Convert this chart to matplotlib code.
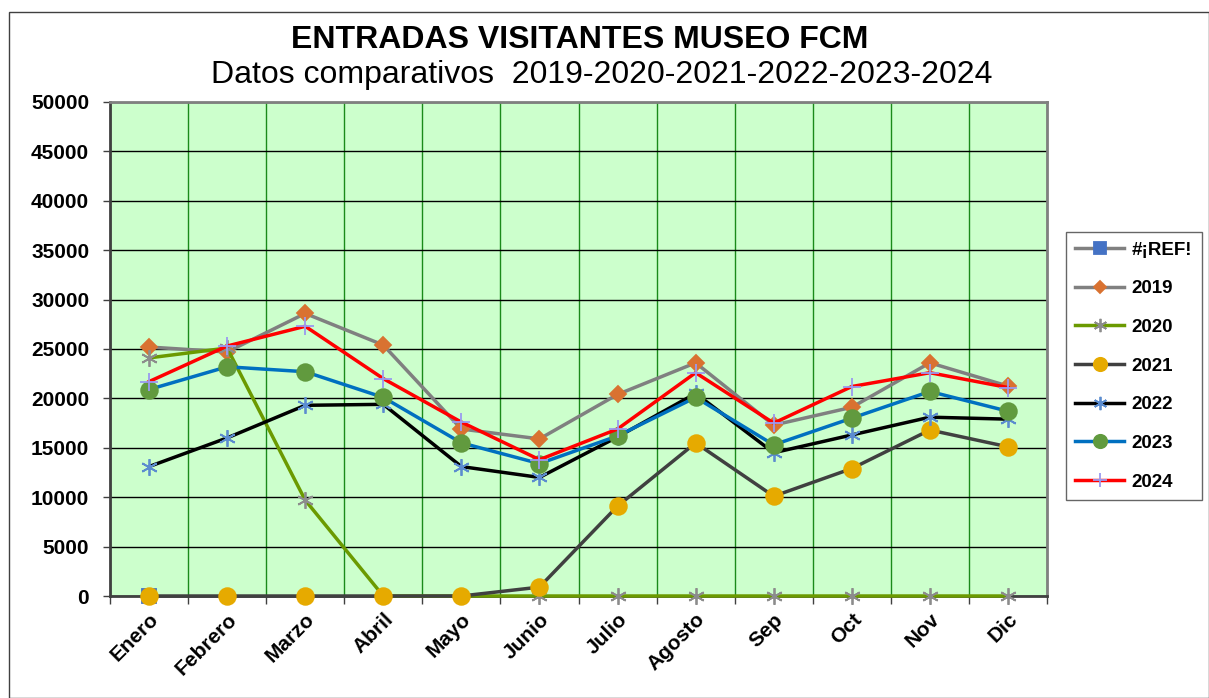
import numpy as np
import matplotlib
matplotlib.use("Agg")
import matplotlib.pyplot as plt
from matplotlib.patches import Rectangle

plt.rcParams['font.family'] = ['Liberation Sans', 'DejaVu Sans']

months = ["Enero", "Febrero", "Marzo", "Abril", "Mayo", "Junio", "Julio",
          "Agosto", "Sep", "Oct", "Nov", "Dic"]
nan = np.nan
ref = [0, nan, nan, nan, nan, nan, nan, nan, nan, nan, nan, nan]
y2019 = [25200, 24700, 28600, 25400, 16900, 15900, 20400, 23600, 17300, 19100, 23600, 21250]
y2020 = [24100, 25100, 9700, 0, 0, 0, 0, 0, 0, 0, 0, 0]
y2021 = [0, 0, 0, 0, 0, 900, 9100, 15500, 10100, 12900, 16800, 15100]
y2022 = [13100, 16000, 19300, 19400, 13100, 12000, 16100, 20500, 14500, 16300, 18100, 17900]
y2023 = [20900, 23200, 22700, 20100, 15500, 13400, 16200, 20100, 15300, 18000, 20700, 18700]
y2024 = [21700, 25300, 27300, 22000, 17600, 13800, 16900, 22600, 17500, 21200, 22600, 21100]

W, H = 1209, 698
fig = plt.figure(figsize=(W / 100, H / 100), dpi=100)
# outer border
fig.patches.append(Rectangle((9 / W, 0), (W - 9) / W, (H - 12) / H, transform=fig.transFigure,
                             fill=False, edgecolor="#404040", linewidth=1.0))

left, right, top, bottom = 110, 1047, 102, 596
ax = fig.add_axes([left / W, 1 - bottom / H, (right - left) / W, (bottom - top) / H])
ax.set_facecolor("#CCFFCC")

x = np.arange(len(months))
ast = (6, 2, 0)
series = [
    ("#¡REF!", ref, "#808080", "s", "#4472C4", 10),
    ("2019", y2019, "#808080", "D", "#D97231", 8),
    ("2020", y2020, "#6B9A00", ast, "#8C8C8C", 12),
    ("2021", y2021, "#404040", "o", "#E6AA00", 12),
    ("2022", y2022, "#000000", ast, "#5B8CCF", 12),
    ("2023", y2023, "#0070C0", "o", "#619A3E", 12),
    ("2024", y2024, "#FF0000", "+", "#9A9AF0", 13),
]
handles = []
for name, vals, lc, mk, mc, ms in series:
    h, = ax.plot(x, vals, color=lc, linewidth=2.5, marker=mk, markersize=ms,
                 markerfacecolor=mc, markeredgecolor=mc, markeredgewidth=1.3,
                 label=name, clip_on=False, zorder=3)
    handles.append(h)

ax.set_xlim(-0.5, 11.5)
ax.set_ylim(0, 50000)
ax.set_yticks(np.arange(0, 50001, 5000))
ax.set_yticklabels([str(v) for v in range(0, 50001, 5000)], fontsize=15, fontweight="bold")
ax.set_xticks(x)
ax.set_xticklabels(months, rotation=45, ha="right", rotation_mode="anchor",
                   fontsize=15, fontweight="bold")
ax.tick_params(axis="x", length=0, pad=10)
ax.tick_params(axis="y", length=5, width=1, color="#404040", pad=10)
# boundary ticks and vertical gridlines
ax.set_xticks(np.arange(-0.5, 12, 1), minor=True)
ax.tick_params(axis="x", which="minor", length=6, width=1, color="#404040")
ax.grid(axis="x", which="minor", color="#1A8A1A", linewidth=1.0, zorder=1)
ax.grid(axis="y", which="major", color="#000000", linewidth=1.0, zorder=1)
ax.set_axisbelow(True)
for s in ["left", "bottom"]:
    ax.spines[s].set_color("#404040")
    ax.spines[s].set_linewidth(2)
for s in ["top", "right"]:
    ax.spines[s].set_color("#808080")
    ax.spines[s].set_linewidth(2)

fig.text(580 / W, 1 - 40 / H, "ENTRADAS VISITANTES MUSEO FCM", ha="center", va="center",
         fontsize=23, fontweight="bold")
fig.text(602 / W, 1 - 75 / H, "Datos comparativos  2019-2020-2021-2022-2023-2024",
         ha="center", va="center", fontsize=23)

leg = fig.legend(handles=handles, loc="upper left",
                 bbox_to_anchor=(1066 / W, 1 - 232 / H), frameon=True, fancybox=False,
                 edgecolor="#404040", prop={"weight": "bold", "size": 13.5},
                 labelspacing=1.15, handlelength=2.6, handletextpad=0.4,
                 borderpad=0.5, borderaxespad=0, markerscale=0.8)
leg.get_frame().set_linewidth(1.0)

fig.savefig("out.png", dpi=100)
